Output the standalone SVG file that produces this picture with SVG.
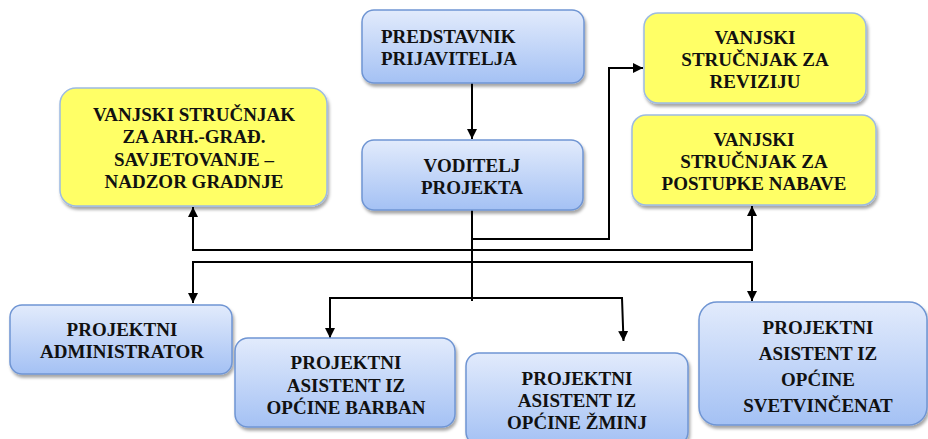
<svg xmlns="http://www.w3.org/2000/svg" width="928" height="439" viewBox="0 0 928 439">
<defs>
<linearGradient id="blue" x1="0" y1="0" x2="0" y2="1">
<stop offset="0" stop-color="#e2ebfc"/>
<stop offset="1" stop-color="#a4c1f4"/>
</linearGradient>
<filter id="sh" x="-10%" y="-10%" width="120%" height="130%">
<feDropShadow dx="1.5" dy="3" stdDeviation="1.8" flood-color="#000" flood-opacity="0.35"/>
</filter>
<marker id="ah" viewBox="0 0 10 10" refX="10" refY="5" markerWidth="10" markerHeight="10" markerUnits="userSpaceOnUse" orient="auto">
<path d="M0,0 L10,5 L0,10 z" fill="#000"/>
</marker>
</defs>
<style>
.b{fill:url(#blue);stroke:#6f95d3;stroke-width:1.5;filter:url(#sh)}
.y{fill:#ffff66;stroke:#9dbbe2;stroke-width:1.5;filter:url(#sh)}
text{font-family:'Liberation Serif','DejaVu Serif',serif;font-weight:700;font-size:19px;fill:#111;text-anchor:middle}
.c{fill:none;stroke:#000;stroke-width:2}
</style>
<rect width="928" height="439" fill="#fff"/>
<g id="connectors">
<path class="c" d="M472 83 V139" marker-end="url(#ah)"/>
<path class="c" d="M472 210 V301"/>
<path class="c" d="M472 239 H609 V68 H643" marker-end="url(#ah)"/>
<path class="c" d="M472 250 H193 V207" marker-end="url(#ah)"/>
<path class="c" d="M472 250 H752 V206" marker-end="url(#ah)"/>
<path class="c" d="M472 262 H193 V303" marker-end="url(#ah)"/>
<path class="c" d="M472 262 H752 V301" marker-end="url(#ah)"/>
<path class="c" d="M472 298 H330 V338" marker-end="url(#ah)"/>
<path class="c" d="M472 298 H622 L623.5 341" marker-end="url(#ah)"/>
</g>
<g id="predstavnik">
<rect class="b" x="362" y="10" width="222" height="73" rx="12"/>
<text x="381" y="43" style="text-anchor:start">PREDSTAVNIK</text>
<text x="381" y="65" style="text-anchor:start">PRIJAVITELJA</text>
</g>
<g id="voditelj">
<rect class="b" x="362" y="140" width="221" height="70" rx="12"/>
<text x="472" y="172">VODITELJ</text>
<text x="472" y="194">PROJEKTA</text>
</g>
<g id="arh-grad">
<rect class="y" x="60" y="88" width="267" height="118" rx="16"/>
<text x="194" y="121">VANJSKI STRUČNJAK</text>
<text x="194" y="143">ZA ARH.-GRAĐ.</text>
<text x="194" y="166">SAVJETOVANJE –</text>
<text x="194" y="188">NADZOR GRADNJE</text>
</g>
<g id="revizija">
<rect class="y" x="644" y="13" width="222" height="90" rx="14"/>
<text x="755" y="44">VANJSKI</text>
<text x="755" y="66">STRUČNJAK ZA</text>
<text x="755" y="88">REVIZIJU</text>
</g>
<g id="nabava">
<rect class="y" x="632" y="115" width="244" height="90" rx="14"/>
<text x="754" y="146">VANJSKI</text>
<text x="754" y="168">STRUČNJAK ZA</text>
<text x="754" y="190">POSTUPKE NABAVE</text>
</g>
<g id="administrator">
<rect class="b" x="10" y="305" width="222" height="69" rx="12"/>
<text x="122" y="336">PROJEKTNI</text>
<text x="122" y="358">ADMINISTRATOR</text>
</g>
<g id="barban">
<rect class="b" x="235" y="338" width="220" height="89" rx="13"/>
<text x="346" y="369">PROJEKTNI</text>
<text x="346" y="392">ASISTENT IZ</text>
<text x="346" y="414">OPĆINE BARBAN</text>
</g>
<g id="zminj">
<rect class="b" x="466" y="353" width="222" height="92" rx="13"/>
<text x="577" y="385">PROJEKTNI</text>
<text x="577" y="407">ASISTENT IZ</text>
<text x="577" y="429">OPĆINE ŽMINJ</text>
</g>
<g id="svetvincenat">
<rect class="b" x="699" y="302" width="228" height="123" rx="18"/>
<text x="818" y="334">PROJEKTNI</text>
<text x="818" y="360">ASISTENT IZ</text>
<text x="818" y="386">OPĆINE</text>
<text x="818" y="412">SVETVINČENAT</text>
</g>
</svg>
